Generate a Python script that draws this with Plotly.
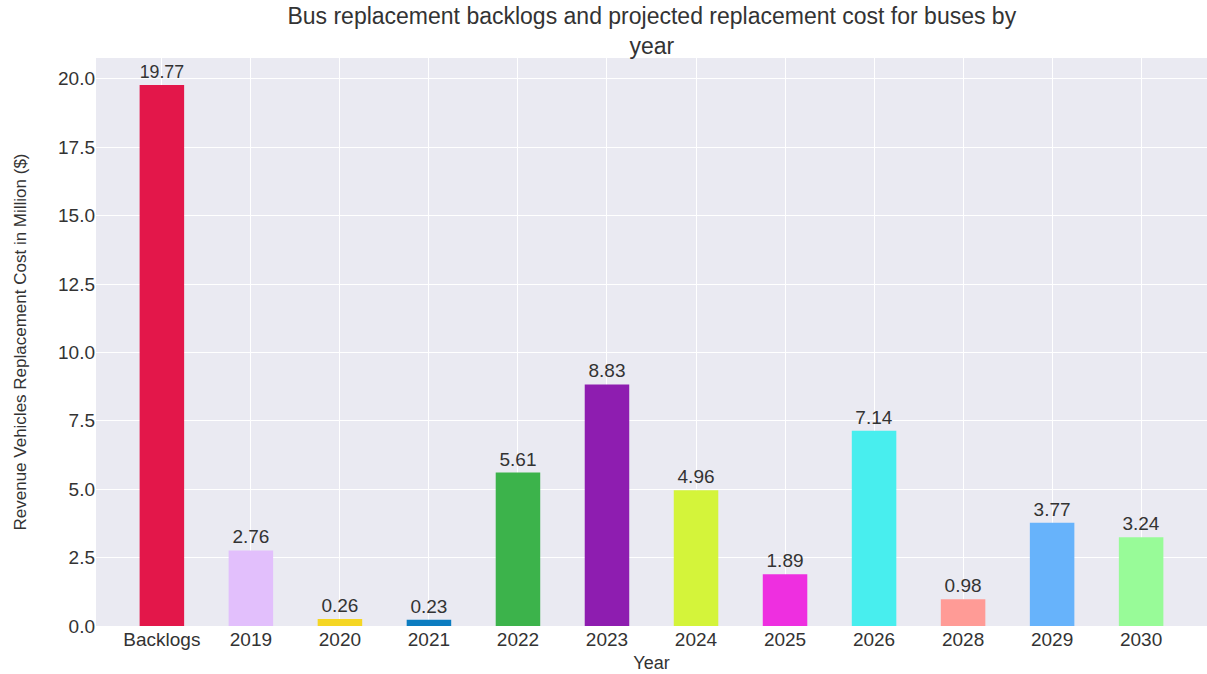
import plotly.graph_objects as go

categories = ["Backlogs", "2019", "2020", "2021", "2022", "2023", "2024",
              "2025", "2026", "2028", "2029", "2030"]
costs = [19.77, 2.76, 0.26, 0.23, 5.61, 8.83, 4.96, 1.89, 7.14, 0.98, 3.77, 3.24]
bar_colors = ["#E3174A", "#E2BFFC", "#F5D623", "#0C7CC0", "#3CB34B", "#8E1DB0",
              "#D4F43A", "#EE2FE0", "#48EEEE", "#FF9B96", "#67B3FB", "#98FB98"]
y_ticks = [0.0, 2.5, 5.0, 7.5, 10.0, 12.5, 15.0, 17.5, 20.0]

fig = go.Figure(go.Bar(
    x=categories,
    y=costs,
    marker=dict(color=bar_colors, line=dict(width=0)),
    width=0.5,
    text=[f"{v:.2f}" for v in costs],
    textposition="outside",
    textfont=dict(size=19, color="#333333"),
    cliponaxis=False,
))

fig.update_layout(
    width=1207, height=674,
    margin=dict(l=96, r=0, t=58, b=48),
    paper_bgcolor="white",
    plot_bgcolor="#EAEAF2",
    font=dict(family="Liberation Sans, Arial, sans-serif", color="#333333"),
    title=dict(
        text="Bus replacement backlogs and projected replacement cost for buses by<br>year",
        x=0.54, xanchor="center",
        yref="paper", y=1.0, yanchor="bottom", pad=dict(b=34),
        font=dict(size=23, color="#333333"),
    ),
    showlegend=False,
)

fig.update_xaxes(
    title=dict(text="Year", font=dict(size=18), standoff=7),
    tickfont=dict(size=19),
    showgrid=True, gridcolor="white", gridwidth=1,
    range=[-0.74, 11.74],
    ticks="", zeroline=False,
)
fig.update_yaxes(
    title=dict(text="Revenue Vehicles Replacement Cost in Million ($)",
               font=dict(size=17), standoff=27),
    tickfont=dict(size=19),
    tickvals=y_ticks, ticktext=[f"{t:.1f}" for t in y_ticks],
    range=[0, 20.76],
    showgrid=True, gridcolor="white", gridwidth=1,
    zeroline=False, ticks="",
)

# drop the default 8px page margin so the figure fills the window exactly
fig.write_html("out.html", config={"displayModeBar": False},
               post_script="document.body.style.margin = '0px';")
